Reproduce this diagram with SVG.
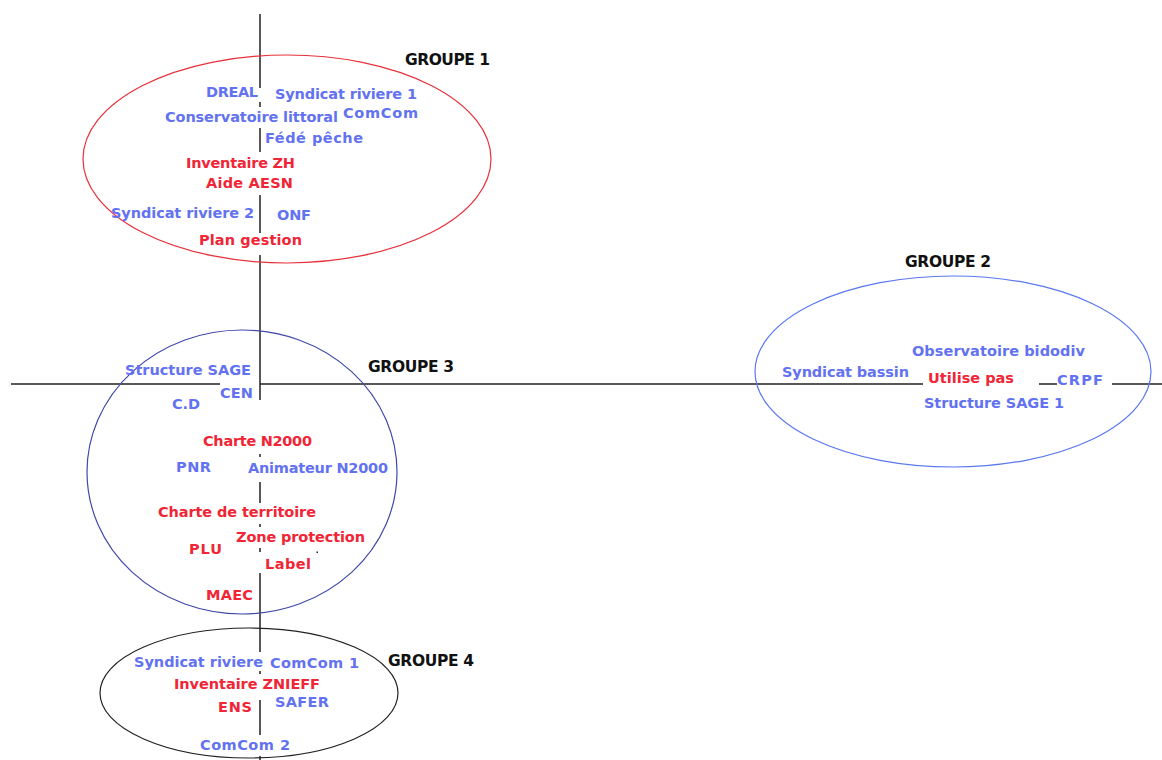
<svg xmlns="http://www.w3.org/2000/svg" width="1162" height="760" viewBox="0 0 1162 760">
<style>
text{font-family:"DejaVu Sans",Verdana,sans-serif;font-weight:bold;font-size:14.5px}
.b{fill:#6272f0}
.r{fill:#f02535}
.g{fill:#111;font-size:15.5px}
.ax{stroke:#222;stroke-width:1.5;fill:none}
.ell{fill:none;stroke-width:1.2}
</style>
<rect width="1162" height="760" fill="#fff"/>
<g id="axes">
<path class="ax" d="M260,14V88M260,102V107M260,128V152M260,195V233M260,255V400M260,454V457M260,482V503M260,524V527M260,548V552M260,573V652M260,671V674M260,700V735M260,756V760"/>
<path class="ax" d="M11,384H220M260,384H923M1039,384H1057M1112,384H1162"/>
<rect x="316.5" y="551.5" width="1.5" height="1.5" fill="#222"/>
</g>
<g id="groupe1">
<ellipse class="ell" cx="287" cy="159" rx="204" ry="104" stroke="#e8303a"/>
<text class="g" x="405" y="65" textLength="85">GROUPE 1</text>
<text class="b" x="206" y="97" textLength="52">DREAL</text>
<text class="b" x="275" y="99" textLength="142">Syndicat riviere 1</text>
<text class="b" x="165" y="122" textLength="173">Conservatoire littoral</text>
<text class="b" x="343" y="118" textLength="75">ComCom</text>
<text class="b" x="265" y="143" textLength="98">Fédé pêche</text>
<text class="r" x="186" y="168" textLength="109">Inventaire ZH</text>
<text class="r" x="206" y="188" textLength="87">Aide AESN</text>
<text class="b" x="111" y="218" textLength="143">Syndicat riviere 2</text>
<text class="b" x="277" y="220" textLength="34">ONF</text>
<text class="r" x="199" y="245" textLength="103">Plan gestion</text>
</g>
<g id="groupe2">
<ellipse class="ell" cx="953" cy="371.5" rx="198" ry="95.5" stroke="#5a78f0"/>
<text class="g" x="905" y="267" textLength="86">GROUPE 2</text>
<text class="b" x="912" y="356" textLength="173">Observatoire bidodiv</text>
<text class="b" x="782" y="377" textLength="127">Syndicat bassin</text>
<text class="r" x="928" y="383" textLength="86">Utilise pas</text>
<text class="b" x="1057" y="385" textLength="46">CRPF</text>
<text class="b" x="924" y="408" textLength="140">Structure SAGE 1</text>
</g>
<g id="groupe3">
<ellipse class="ell" cx="242" cy="472" rx="155" ry="142" stroke="#4048a8"/>
<text class="g" x="368" y="372" textLength="86">GROUPE 3</text>
<text class="b" x="125" y="375" textLength="126">Structure SAGE</text>
<text class="b" x="220" y="398" textLength="33">CEN</text>
<text class="b" x="172" y="409" textLength="28">C.D</text>
<text class="r" x="203" y="446" textLength="109">Charte N2000</text>
<text class="b" x="176" y="472" textLength="35">PNR</text>
<text class="b" x="248" y="473" textLength="140">Animateur N2000</text>
<text class="r" x="158" y="517" textLength="158">Charte de territoire</text>
<text class="r" x="236" y="542" textLength="129">Zone protection</text>
<text class="r" x="189" y="554" textLength="33">PLU</text>
<text class="r" x="265" y="569" textLength="46">Label</text>
<text class="r" x="206" y="600" textLength="47">MAEC</text>
</g>
<g id="groupe4">
<ellipse class="ell" cx="249" cy="693" rx="149" ry="65" stroke="#222"/>
<text class="g" x="388" y="666" textLength="86">GROUPE 4</text>
<text class="b" x="134" y="667" textLength="129">Syndicat riviere</text>
<text class="b" x="270" y="668" textLength="89">ComCom 1</text>
<text class="r" x="174" y="689" textLength="146">Inventaire ZNIEFF</text>
<text class="r" x="218" y="712" textLength="34">ENS</text>
<text class="b" x="275" y="707" textLength="54">SAFER</text>
<text class="b" x="200" y="750" textLength="90">ComCom 2</text>
</g>
</svg>
